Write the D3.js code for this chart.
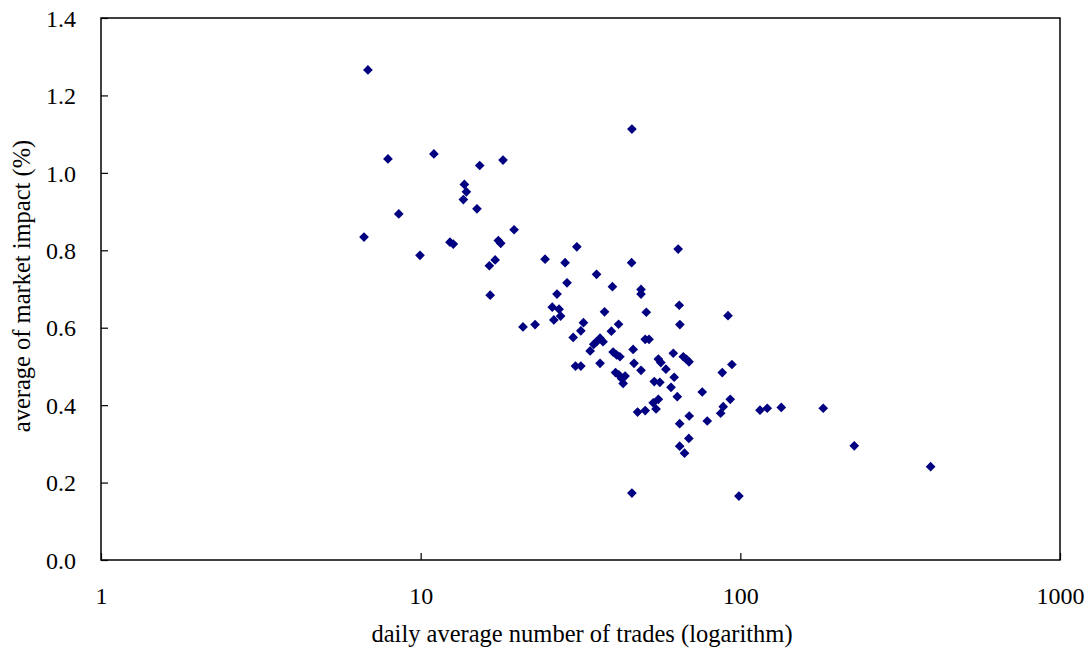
<!DOCTYPE html>
<html>
<head>
<meta charset="utf-8">
<script src="https://cdn.jsdelivr.net/npm/d3@7"></script>
<style>
  html, body { margin: 0; padding: 0; background: #fff; }
  svg { display: block; }
  text { font-family: "Liberation Serif", "Times New Roman", serif; fill: #000; }
</style>
</head>
<body>
<svg id="chart" width="1091" height="654"></svg>
<script>
const trades = [6.84, 6.65, 7.9, 8.54, 9.95, 11.0, 12.35, 12.65, 13.7, 13.9, 13.6, 15.0, 15.3, 18.1, 19.6, 17.5, 17.8, 17.1, 16.4, 16.5,
  24.5, 28.3, 30.8, 35.5, 28.7, 39.8, 48.9, 48.9, 26.7, 45.7, 63.9, 45.8, 64.4, 25.8, 27.1, 27.4, 26.1, 37.6, 50.8, 64.7,
  91.5, 20.9, 22.8, 32.3, 31.7, 41.6, 39.5, 30.0, 36.4, 37.2, 35.5, 34.8, 50.4, 51.8, 33.9, 46.2, 40.0, 41.0, 42.0, 61.7,
  66.3, 67.9, 69.1, 30.5, 31.7, 36.4, 46.5, 48.9, 55.4, 56.4, 58.5, 40.7, 41.7, 43.6, 42.5, 43.0, 62.1, 53.8, 56.0, 60.7,
  63.5, 53.4, 55.4, 54.5, 47.7, 50.4, 69.2, 64.6, 69.0, 64.6, 66.9, 87.8, 94.1, 76.0, 93.0, 88.4, 86.8, 115.2, 121.4, 134.3,
  181.7, 78.8, 227.2, 393.8, 99.0, 45.8];
const impact = [1.266, 0.834, 1.036, 0.894, 0.787, 1.049, 0.821, 0.816, 0.970, 0.951, 0.931, 0.907, 1.019, 1.033, 0.853, 0.825, 0.818, 0.775, 0.760, 0.684,
  0.777, 0.768, 0.809, 0.738, 0.716, 0.706, 0.699, 0.687, 0.687, 0.768, 0.803, 1.113, 0.658, 0.653, 0.648, 0.630, 0.620, 0.641, 0.640, 0.608,
  0.631, 0.602, 0.608, 0.613, 0.592, 0.609, 0.591, 0.575, 0.573, 0.564, 0.564, 0.557, 0.570, 0.570, 0.540, 0.544, 0.537, 0.530, 0.525, 0.534,
  0.525, 0.518, 0.512, 0.501, 0.501, 0.508, 0.508, 0.490, 0.519, 0.510, 0.493, 0.484, 0.478, 0.475, 0.469, 0.456, 0.472, 0.461, 0.459, 0.446,
  0.422, 0.406, 0.415, 0.390, 0.382, 0.386, 0.372, 0.352, 0.314, 0.294, 0.276, 0.484, 0.505, 0.434, 0.415, 0.396, 0.379, 0.387, 0.392, 0.394,
  0.392, 0.359, 0.295, 0.241, 0.165, 0.173];
const xTicks = [1, 10, 100, 1000];
const yTicks = [0.0, 0.2, 0.4, 0.6, 0.8, 1.0, 1.2, 1.4];
const xTitle = "daily average number of trades (logarithm)";
const yTitle = "average of market impact (%)";

const points = trades.map((t, i) => ({ x: t, y: impact[i] }));

const svg = d3.select("#chart");
const L = 101, R = 1060, T = 18, B = 560;

const x = d3.scaleLog().domain([1, 1000]).range([L, R]);
const y = d3.scaleLinear().domain([0, 1.4]).range([B, T]);

// points
svg.append("g").selectAll("path")
  .data(points)
  .enter().append("path")
  .attr("d", d3.symbol().type(d3.symbolDiamond2).size(60))
  .attr("transform", d => `translate(${x(d.x)},${y(d.y)})`)
  .attr("fill", "#000080");

// frame
svg.append("rect")
  .attr("x", L).attr("y", T).attr("width", R - L).attr("height", B - T)
  .attr("fill", "none").attr("stroke", "#000").attr("stroke-width", 1.5);

// y axis
const yAxis = d3.axisLeft(y).tickValues(yTicks).tickSizeInner(-7).tickSizeOuter(0)
  .tickPadding(25).tickFormat(d3.format(".1f"));
const gy = svg.append("g").attr("transform", `translate(${L},0)`).call(yAxis);
gy.select(".domain").remove();
gy.selectAll("line").attr("stroke", "#000").attr("stroke-width", 1.2);
gy.selectAll("text").style("font-size", "24px").attr("dy", "0.34em")
  .style("font-family", "'Liberation Serif', serif");

// x axis
const xAxis = d3.axisBottom(x).tickValues(xTicks).tickSizeInner(-7).tickSizeOuter(0)
  .tickPadding(27).tickFormat(d3.format("d"));
const gx = svg.append("g").attr("transform", `translate(0,${B})`).call(xAxis);
gx.select(".domain").remove();
gx.selectAll("line").attr("stroke", "#000").attr("stroke-width", 1.2);
gx.selectAll("text").style("font-size", "24px")
  .style("font-family", "'Liberation Serif', serif");

// titles
svg.append("text")
  .attr("x", 582).attr("y", 642)
  .attr("text-anchor", "middle").style("font-size", "24.5px")
  .text(xTitle);

svg.append("text")
  .attr("transform", `translate(30,286) rotate(-90)`)
  .attr("text-anchor", "middle").style("font-size", "24.5px")
  .text(yTitle);
</script>
</body>
</html>
